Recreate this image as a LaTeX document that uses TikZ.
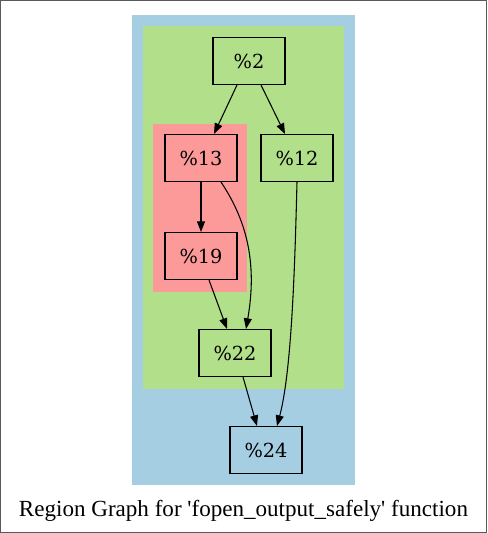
\documentclass[tikz,border=0pt]{standalone}
\usepackage{fontspec}
\setmainfont{Liberation Serif}
\newfontfamily\nodefont{DejaVu Serif}
\usetikzlibrary{arrows.meta}

\definecolor{clusterblue}{HTML}{A6CEE3}
\definecolor{clustergreen}{HTML}{B2DF8A}
\definecolor{clusterred}{HTML}{FB9A99}

\tikzset{
    block/.style={draw, thick, minimum width=72*0.75pt, minimum height=47*0.75pt,
        inner sep=0pt, font=\nodefont\fontsize{14.5}{17}\selectfont},
    edge/.style={thick, -{Triangle[length=8pt, width=6pt]}}
}

\begin{document}
\begin{tikzpicture}[x=0.75pt, y=-0.75pt]
        % 坐标以参考图的像素为单位(y轴向下)
        \draw[gray!70!black] (0.5, 0.5) rectangle (486.5, 532.5);
        \useasboundingbox (0, 0) rectangle (487, 533);

        % 各层区域
        \fill[clusterblue] (132, 15) rectangle (355, 485);
        \fill[clustergreen] (143, 26) rectangle (344, 389);
        \fill[clusterred] (153, 124) rectangle (247, 292);

        % 节点
        \node[block, fill=clustergreen] (n2) at (249, 61) {\%2};
        \node[block, fill=clusterred] (n13) at (201, 158) {\%13};
        \node[block, fill=clustergreen] (n12) at (297, 158) {\%12};
        \node[block, fill=clusterred] (n19) at (201, 256) {\%19};
        \node[block, fill=clustergreen] (n22) at (235, 353) {\%22};
        \node[block, fill=clusterblue] (n24) at (266, 450) {\%24};

        % 连线
        \draw[edge] (n2.south -| 237, 0) -- (n13.north -| 214, 0);
        \draw[edge] (n2.south -| 261, 0) -- (n12.north -| 285, 0);
        \draw[edge] (n13) -- (n19);
        \draw[edge] (n13.south -| 221, 0)
            .. controls (245, 218) and (258, 260) .. (n22.north -| 246, 0);
        \draw[edge] (n19.south -| 209, 0) -- (n22.north -| 227, 0);
        \draw[edge] (n22.south -| 243, 0) -- (n24.north -| 257, 0);
        \draw[edge] (n12.south)
            .. controls (295, 260) and (292, 370) .. (n24.north -| 277, 0);

        \node[font=\fontsize{17.3}{20}\selectfont] (caption) at (243.5, 511)
            {Region Graph for \textquotesingle fopen\_output\_safely\textquotesingle{} function};
    \end{tikzpicture}
\end{document}
